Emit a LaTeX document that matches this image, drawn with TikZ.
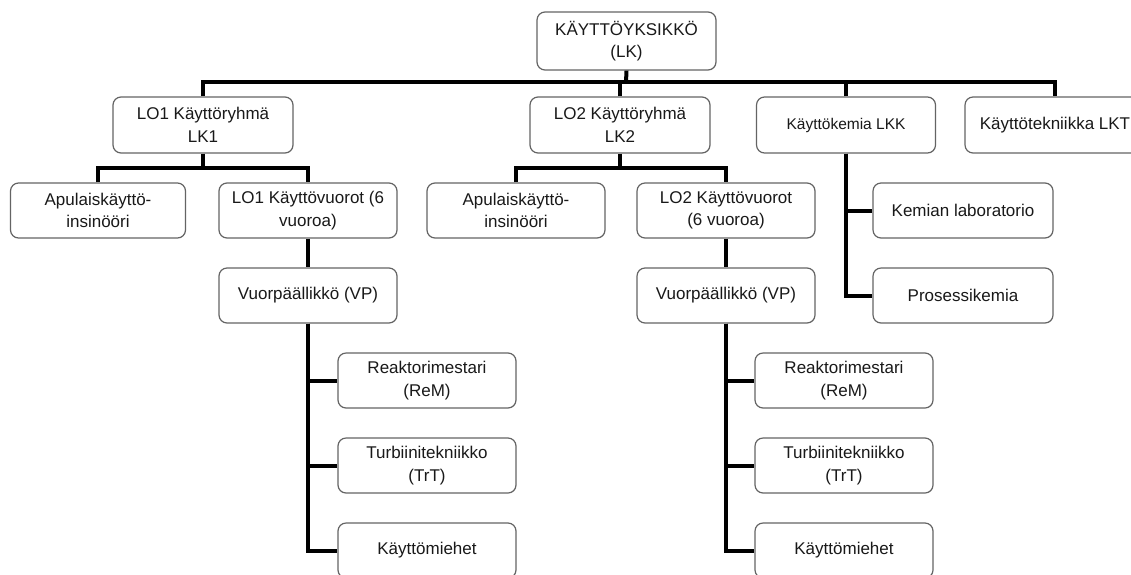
\documentclass[tikz,border=0pt]{standalone}
\usepackage{fontspec}
\setmainfont{Liberation Sans}
\begin{document}
\begin{tikzpicture}[x=1pt,y=-1pt,
  box/.style={draw={rgb,255:red,100;green,100;blue,100}, line width=1.2pt, rounded corners=8pt,
    fill=white, align=center, inner sep=0pt, minimum width=178pt, minimum height=56pt,
    font=\fontsize{17}{22.5}\selectfont, text=black!90},
  smallbox/.style={box, font=\fontsize{15.5}{19}\selectfont},
  conn/.style={line width=4pt, draw=black}]
\fill[white] (0,0) rectangle (1131,574);
\useasboundingbox (0,0) rectangle (1131,574);
\coordinate (bar) at (626,82);
\coordinate (b1) at (203,168);
\coordinate (b2) at (620,168);
% nodes
\node[box, minimum width=179pt, minimum height=58pt] (lk) at (626.5,41) {KÄYTTÖYKSIKKÖ\\(LK)};
\node[box, minimum width=180pt] (lk1) at (203,125) {LO1 Käyttöryhmä\\LK1};
\node[box, minimum width=180pt] (lk2) at (620,125) {LO2 Käyttöryhmä\\LK2};
\node[smallbox, minimum width=179pt] (lkk) at (846,125) {Käyttökemia LKK};
\node[box, minimum width=180pt] (lkt) at (1055,125) {Käyttötekniikka LKT};
\node[box, minimum width=175pt, minimum height=55pt] (a1) at (98,210.5) {Apulaiskäyttö-\\insinööri};
\node[box, minimum height=55pt] (v1) at (308,210.5) {LO1 Käyttövuorot (6\\vuoroa)};
\node[box, minimum height=55pt] (a2) at (516,210.5) {Apulaiskäyttö-\\insinööri};
\node[box, minimum height=55pt] (v2) at (726,210.5) {LO2 Käyttövuorot\\(6 vuoroa)};
\node[box, minimum width=180pt, minimum height=55pt] (kl) at (963,210.5) {Kemian laboratorio};
\node[box, minimum width=180pt, minimum height=55pt] (pk) at (963,295.5) {Prosessikemia};
\node[box, minimum height=55pt] (vp1) at (308,295.5) {Vuorpäällikkö (VP)};
\node[box, minimum height=55pt] (vp2) at (726,295.5) {Vuorpäällikkö (VP)};
\node[box, minimum height=55pt] (r1) at (427,380.5) {Reaktorimestari\\(ReM)};
\node[box, minimum height=55pt] (t1) at (427,465.5) {Turbiinitekniikko\\(TrT)};
\node[box, minimum height=55pt] (k1) at (427,550.5) {Käyttömiehet};
\node[box, minimum height=55pt] (r2) at (844,380.5) {Reaktorimestari\\(ReM)};
\node[box, minimum height=55pt] (t2) at (844,465.5) {Turbiinitekniikko\\(TrT)};
\node[box, minimum height=55pt] (k2) at (844,550.5) {Käyttömiehet};
% connectors
\draw[conn] (lk.south) -- (bar);
\draw[conn] (lk1.north) |- (bar) -| (lkt.north);
\draw[conn] (lk2.north) -- (lk2.north |- bar);
\draw[conn] (lkk.north) -- (lkk.north |- bar);
\draw[conn] (lk1.south) -- (b1);
\draw[conn] (a1.north) |- (b1) -| (v1.north);
\draw[conn] (lk2.south) -- (b2);
\draw[conn] (a2.north) |- (b2) -| (v2.north);
\draw[conn] (v1.south) -- (vp1.north);
\draw[conn] (v2.south) -- (vp2.north);
\draw[conn] (vp1.south) |- (k1.west);
\draw[conn] (vp1.south) |- (r1.west);
\draw[conn] (vp1.south) |- (t1.west);
\draw[conn] (vp2.south) |- (k2.west);
\draw[conn] (vp2.south) |- (r2.west);
\draw[conn] (vp2.south) |- (t2.west);
\draw[conn] (lkk.south) |- (pk.west);
\draw[conn] (lkk.south) |- (kl.west);
\end{tikzpicture}
\end{document}
